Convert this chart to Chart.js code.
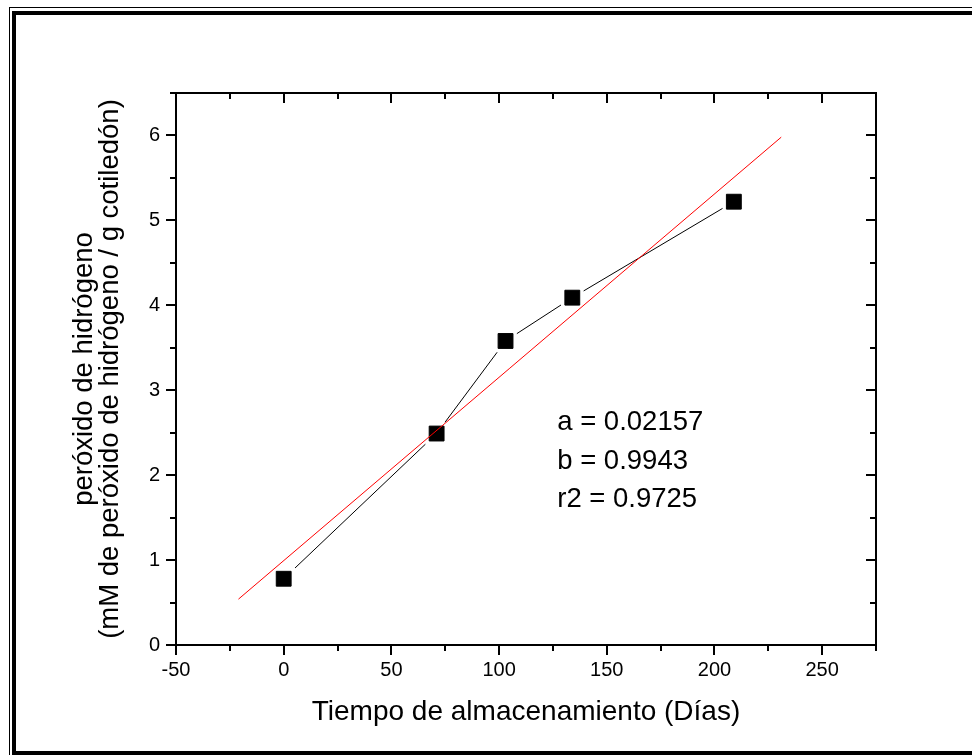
<!DOCTYPE html>
<html>
<head>
<meta charset="utf-8">
<script src="https://cdn.jsdelivr.net/npm/chart.js@4"></script>
<style>
  html, body { margin: 0; padding: 0; background: #fff; }
  #wrap { width: 972px; height: 755px; }
</style>
</head>
<body>
<div id="wrap"><canvas id="peroxChart" width="972" height="755"></canvas></div>
<script>
// values
const days = [0, 71, 103, 134, 209];
const peroxide = [0.78, 2.49, 3.58, 4.09, 5.22];
const fitX = [-21, 231];
const fitY = [0.54, 5.98];
const fitLabels = ["a = 0.02157", "b = 0.9943", "r2 = 0.9725"];

const xTicks = [-50, 0, 50, 100, 150, 200, 250];
const xMinor = [-25, 25, 75, 125, 175, 225, 275];
const yTicks = [0, 1, 2, 3, 4, 5, 6];
const yMinor = [0.5, 1.5, 2.5, 3.5, 4.5, 5.5, 6.5];

const FONT = "'Liberation Sans', Arial, sans-serif";

function pts(xs, ys) {
    return xs.map((v, i) => ({ x: v, y: ys[i] }));
}

/* ===================== FRAME, AXES, TEXT ===================== */
const frameAndAxes = {
    id: "frameAndAxes",
    beforeDraw(chart) {
        const ctx = chart.ctx;
        ctx.save();
        ctx.fillStyle = "#fff";
        ctx.fillRect(0, 0, chart.width, chart.height);
        ctx.fillStyle = "#000";
        // thin outer line
        ctx.fillRect(9, 7, 1, chart.height);
        ctx.fillRect(9, 7, chart.width, 1);
        // thick inner line
        ctx.fillRect(12, 11, 4, chart.height);
        ctx.fillRect(12, 11, chart.width, 4);
        ctx.fillRect(12, 751, chart.width, 4);
        ctx.restore();
    },
    afterDraw(chart) {
        const { ctx, chartArea: a, scales: { x, y } } = chart;
        ctx.save();
        ctx.strokeStyle = "#000";
        ctx.lineWidth = 2;
        ctx.strokeRect(a.left, a.top, a.right - a.left, a.bottom - a.top);

        ctx.beginPath();
        const xt = (vals, len) => vals.forEach(v => {
            const px = Math.round(x.getPixelForValue(v));
            ctx.moveTo(px, a.bottom); ctx.lineTo(px, a.bottom + len); // outward
            ctx.moveTo(px, a.top); ctx.lineTo(px, a.top + len);       // inward
        });
        const yt = (vals, len) => vals.forEach(v => {
            const py = Math.round(y.getPixelForValue(v));
            ctx.moveTo(a.left, py); ctx.lineTo(a.left - len, py);     // outward
            ctx.moveTo(a.right, py); ctx.lineTo(a.right - len, py);   // inward
        });
        xt(xTicks, 10); xt(xMinor, 6);
        yt(yTicks, 10); yt(yMinor, 6);
        ctx.stroke();

        // fit parameters
        ctx.fillStyle = "#000";
        ctx.font = "27.5px " + FONT;
        ctx.textAlign = "left";
        ctx.textBaseline = "alphabetic";
        const tx = x.getPixelForValue(127);
        const ty = y.getPixelForValue(2.53);
        fitLabels.forEach((t, i) => ctx.fillText(t, tx, ty + i * 38.5));
        ctx.restore();
    }
};

/* ===================== CHART ===================== */
const ctx = document.getElementById("peroxChart").getContext("2d");

new Chart(ctx, {
    type: "line",
    data: {
        datasets: [
            {
                // regression line, on top
                data: pts(fitX, fitY),
                borderColor: "#ff0000",
                borderWidth: 1,
                pointRadius: 0,
                fill: false
            },
            {
                // markers
                data: pts(days, peroxide),
                showLine: false,
                pointStyle: "rect",
                pointRadius: 10.5,
                pointBackgroundColor: "#000",
                pointBorderColor: "#000",
                pointBorderWidth: 1
            },
            {
                // connecting line, white squares make the gaps near markers
                data: pts(days, peroxide),
                borderColor: "#000",
                borderWidth: 1,
                pointStyle: "rect",
                pointRadius: 16,
                pointBackgroundColor: "#fff",
                pointBorderWidth: 0,
                fill: false
            }
        ]
    },
    options: {
        responsive: false,
        animation: false,
        events: [],
        layout: { padding: { left: 0, top: 93, right: 96, bottom: 0 } },
        plugins: {
            legend: { display: false },
            tooltip: { enabled: false }
        },
        scales: {
            x: {
                type: "linear",
                min: -50,
                max: 275,
                afterBuildTicks: s => { s.ticks = xTicks.map(v => ({ value: v })); },
                afterFit: s => { s.height = 110; },
                grid: { display: false, drawTicks: false },
                border: { display: false },
                ticks: {
                    color: "#000",
                    font: { family: FONT, size: 20 },
                    padding: 13,
                    maxRotation: 0,
                    autoSkip: false
                },
                title: {
                    display: true,
                    text: "Tiempo de almacenamiento (Días)",
                    color: "#000",
                    font: { family: FONT, size: 28, lineHeight: 1 },
                    padding: { top: 0, bottom: 29 }
                }
            },
            y: {
                type: "linear",
                min: 0,
                max: 6.5,
                afterBuildTicks: s => { s.ticks = yTicks.map(v => ({ value: v })); },
                afterFit: s => { s.width = 176; },
                grid: { display: false, drawTicks: false },
                border: { display: false },
                ticks: {
                    color: "#000",
                    font: { family: FONT, size: 20 },
                    padding: 16,
                    autoSkip: false
                },
                title: {
                    display: true,
                    text: ["peróxido de hidrógeno", "(mM de peróxido de hidrógeno / g cotiledón)"],
                    color: "#000",
                    font: { family: FONT, size: 27.5, lineHeight: 0.92 },
                    padding: { top: 72, bottom: 0 }
                }
            }
        }
    },
    plugins: [frameAndAxes]
});
</script>
</body>
</html>
